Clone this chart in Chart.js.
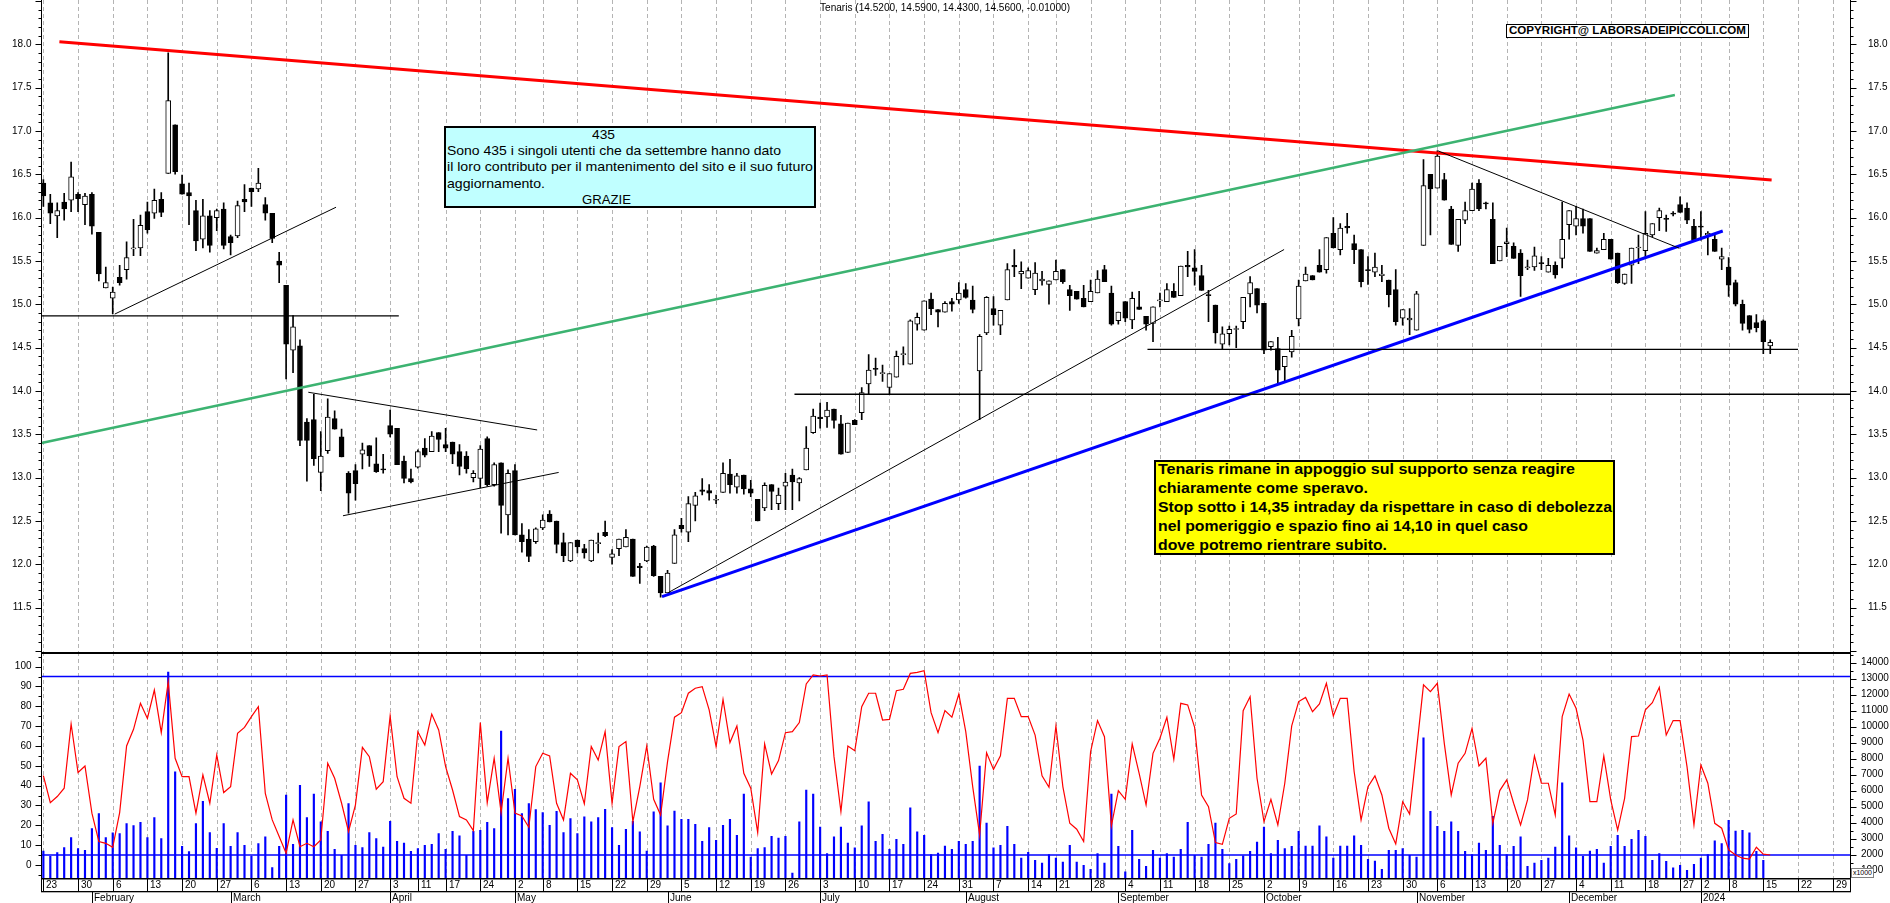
<!DOCTYPE html>
<html lang="it">
<head>
<meta charset="utf-8">
<title>Tenaris</title>
<script src="https://cdn.jsdelivr.net/npm/chart.js"></script>
<style>
html,body{margin:0;padding:0;background:#fff}
body{position:relative;width:1890px;height:903px;overflow:hidden;font-family:"Liberation Sans",Arial,Helvetica,sans-serif;color:#000}
canvas{position:absolute;left:0;display:block}
#priceCanvas{top:0}
#lowerCanvas{top:652px}
.box{position:absolute;box-sizing:border-box;border:2px solid #000}
.txt{position:absolute;white-space:nowrap;line-height:1;transform-origin:0 0;font-family:"Liberation Sans",Arial,Helvetica,sans-serif}
.cy{font-size:13px;font-weight:normal}
.ye{font-size:15px;font-weight:bold}
</style>
</head>
<body>
<canvas id="priceCanvas" width="1890" height="652"></canvas>
<canvas id="lowerCanvas" width="1890" height="251"></canvas>

<div class="box" style="left:444px;top:126px;width:372px;height:82px;background:#c0ffff"></div>
<div class="box" style="left:1154px;top:460px;width:461px;height:95px;background:#ffff00"></div>
<div class="box" style="left:1506px;top:24px;width:243px;height:14px;border-width:1px;background:#fff"></div>
<div class="box" style="left:1851px;top:868px;width:23px;height:10px;border:1px solid #808080;background:#fff"></div>

<div class="txt" data-w="250" style="left:820px;top:3.2px;font-size:10px">Tenaris (14.5200, 14.5900, 14.4300, 14.5600, -0.01000)</div>
<div class="txt" data-w="237" style="left:1509px;top:24.8px;font-size:11px;font-weight:bold">COPYRIGHT@ LABORSADEIPICCOLI.COM</div>
<div class="txt" data-w="19" style="left:1853px;top:869px;font-size:7px">x1000</div>

<div class="txt cy" data-w="23" style="left:592px;top:127.9px">435</div>
<div class="txt cy" data-w="334" style="left:447px;top:143.9px">Sono 435 i singoli utenti che da settembre hanno dato</div>
<div class="txt cy" data-w="366" style="left:447px;top:159.9px">il loro contributo per il mantenimento del sito e il suo futuro</div>
<div class="txt cy" data-w="98" style="left:447px;top:176.5px">aggiornamento.</div>
<div class="txt cy" data-w="49" style="left:582px;top:192.9px">GRAZIE</div>

<div class="txt ye" data-w="417" style="left:1158px;top:461px">Tenaris rimane in appoggio sul supporto senza reagire</div>
<div class="txt ye" data-w="210" style="left:1158px;top:480.4px">chiaramente come speravo.</div>
<div class="txt ye" data-w="454" style="left:1158px;top:499.4px">Stop sotto i 14,35 intraday da rispettare in caso di debolezza</div>
<div class="txt ye" data-w="370" style="left:1158px;top:518.4px">nel pomeriggio e spazio fino ai 14,10 in quel caso</div>
<div class="txt ye" data-w="229" style="left:1158px;top:537.4px">dove potremo rientrare subito.</div>

<script>
// ================= DATA =================
const holidays = ['2023-04-07','2023-04-10','2023-05-01','2023-08-15','2023-12-25','2023-12-26','2024-01-01'];

const opens = [
16.40,16.17,16.02,16.18,16.20,16.27,16.15,16.27,15.83,15.19,
15.07,15.31,15.40,15.64,15.65,16.07,16.05,16.21,16.51,17.07,
16.39,16.29,16.08,15.75,16.02,16.00,16.10,15.78,15.79,16.21,
16.34,16.33,16.15,16.05,15.50,15.22,14.47,14.52,13.64,13.67,
13.06,13.31,13.68,13.47,13.05,13.08,13.27,13.37,13.16,13.10,
13.60,13.57,13.19,12.99,13.12,13.34,13.30,13.52,13.38,13.41,
13.30,13.25,13.00,12.99,13.45,12.92,13.17,12.57,13.08,12.34,
12.29,12.26,12.42,12.58,12.50,12.25,12.04,12.28,12.18,12.04,
12.24,12.37,12.08,12.18,12.20,12.29,11.98,12.04,12.21,11.86,
11.67,12.01,12.45,12.37,12.68,12.86,12.85,12.74,12.83,13.04,
12.89,13.03,12.87,12.75,12.65,12.92,12.70,12.90,13.03,12.94,
13.09,13.52,13.70,13.70,13.79,13.62,13.29,13.66,13.75,14.08,
14.26,14.20,14.04,14.16,14.42,14.31,14.77,14.70,15.06,14.94,
14.91,15.03,15.05,15.17,15.05,14.23,14.67,14.95,14.76,15.05,
15.45,15.35,15.30,15.17,15.27,15.23,15.28,15.40,15.17,15.15,
15.07,15.03,15.13,15.40,15.13,14.81,15.03,14.82,14.97,14.86,
14.78,15.04,15.03,15.15,15.10,15.45,15.42,15.33,15.11,14.99,
14.54,14.66,14.71,14.80,15.12,15.18,15.01,14.51,14.49,14.28,
14.45,14.83,15.27,15.33,15.45,15.40,15.82,15.63,15.90,15.70,
15.63,15.40,15.37,15.33,15.28,15.17,14.84,14.82,14.70,15.68,
16.50,16.34,16.44,16.10,15.68,15.97,16.08,16.40,16.17,15.98,
15.50,15.70,15.67,15.59,15.42,15.43,15.48,15.37,15.45,15.53,
15.92,15.90,15.99,15.99,15.59,15.63,15.75,15.59,15.24,15.45,
15.65,15.62,15.80,16.00,15.99,16.05,16.15,16.11,15.90,15.90,
15.80,15.75,15.52,15.43,15.25,15.00,14.87,14.79,14.81,14.52];

const highs = [
16.44,16.27,16.17,16.28,16.64,16.29,16.28,16.29,15.83,15.43,
15.20,15.45,15.72,15.98,16.03,16.18,16.33,16.29,17.90,17.07,
16.49,16.40,16.20,16.21,16.08,16.10,16.17,15.80,16.19,16.38,
16.34,16.57,16.23,16.05,15.60,15.22,14.87,14.59,13.68,13.96,
13.53,13.91,13.77,13.56,13.07,13.15,13.40,13.37,13.46,13.27,
13.78,13.57,13.25,13.10,13.32,13.45,13.53,13.52,13.57,13.41,
13.38,13.30,13.08,13.37,13.47,13.17,13.17,13.09,13.15,12.47,
12.40,12.42,12.57,12.62,12.50,12.36,12.25,12.28,12.23,12.28,
12.36,12.50,12.17,12.29,12.40,12.29,12.01,12.21,12.22,11.86,
11.93,12.40,12.53,12.78,12.83,12.99,12.92,12.80,13.17,13.21,
13.05,13.03,12.97,12.75,12.94,12.92,12.88,13.05,13.10,13.00,
13.59,13.79,13.86,13.87,13.79,13.72,13.63,13.67,14.04,14.42,
14.38,14.30,14.20,14.46,14.51,14.82,14.90,15.04,15.13,14.94,
15.03,15.07,15.25,15.24,15.21,14.65,15.09,15.09,14.93,15.47,
15.63,15.49,15.42,15.48,15.38,15.27,15.51,15.40,15.22,15.15,
15.22,15.28,15.39,15.45,15.21,14.91,15.03,15.14,15.15,14.86,
14.97,15.13,15.24,15.24,15.44,15.61,15.63,15.45,15.16,14.99,
14.74,14.75,14.75,15.08,15.32,15.18,15.01,14.57,14.62,14.40,
14.70,15.28,15.43,15.33,15.63,15.77,16.00,15.93,16.05,15.80,
15.63,15.55,15.59,15.45,15.28,15.40,14.94,14.95,15.15,16.67,
16.50,16.77,16.51,16.13,15.98,16.18,16.40,16.44,16.18,16.17,
15.67,15.88,15.71,15.63,15.51,15.66,15.55,15.53,15.49,16.18,
16.08,16.13,16.10,15.99,15.65,15.82,15.75,15.59,15.35,15.65,
15.80,16.07,15.93,16.11,16.03,16.07,16.24,16.17,15.98,16.07,
15.84,15.80,15.65,15.54,15.28,15.05,14.87,14.88,14.82,14.59];

const lows = [
16.13,15.93,15.77,15.97,16.07,16.07,15.92,15.81,15.27,15.19,
14.89,15.22,15.29,15.56,15.56,15.82,15.99,16.01,16.51,16.50,
16.27,15.92,15.62,15.65,15.60,15.85,15.64,15.57,15.77,16.07,
16.13,16.30,15.97,15.71,15.25,14.14,14.21,13.37,12.96,13.14,
12.85,13.28,13.56,13.24,12.59,12.74,13.10,13.13,13.06,13.05,
13.47,13.15,12.94,12.94,13.11,13.24,13.30,13.30,13.30,13.16,
13.03,13.05,12.95,12.88,12.90,12.90,12.36,12.34,12.34,12.14,
12.03,12.24,12.40,12.49,12.13,12.03,12.03,12.13,12.07,12.03,
12.13,12.32,12.00,12.10,12.20,11.86,11.78,12.03,11.86,11.62,
11.67,12.01,12.37,12.26,12.50,12.80,12.74,12.70,12.83,12.82,
12.82,12.81,12.78,12.50,12.62,12.63,12.63,12.63,12.63,12.73,
13.09,13.51,13.57,13.58,13.57,13.27,13.29,13.61,13.67,13.96,
14.18,14.11,13.96,14.16,14.30,14.31,14.70,14.70,14.88,14.74,
14.91,14.92,15.01,15.07,14.90,13.67,14.65,14.76,14.65,15.05,
15.32,15.18,15.30,15.11,15.22,15.00,15.28,15.24,14.93,15.06,
14.97,15.03,15.13,15.26,14.76,14.77,14.80,14.72,14.94,14.70,
14.57,14.97,15.03,15.08,15.10,15.32,15.22,15.16,14.80,14.55,
14.48,14.53,14.50,14.72,14.97,14.90,14.43,14.47,14.09,14.11,
14.39,14.75,15.27,15.28,15.37,15.36,15.65,15.57,15.82,15.47,
15.20,15.23,15.32,15.26,14.97,14.76,14.76,14.65,14.70,15.68,
15.80,16.34,16.20,15.69,15.61,15.93,16.08,16.08,16.10,15.47,
15.50,15.55,15.53,15.09,15.40,15.39,15.40,15.37,15.30,15.42,
15.75,15.80,15.82,15.61,15.59,15.63,15.52,15.24,15.23,15.24,
15.47,15.55,15.78,15.85,15.84,16.02,16.06,15.93,15.74,15.74,
15.57,15.61,15.40,15.09,14.98,14.70,14.67,14.68,14.43,14.43];

const closes = [
16.25,16.05,16.08,16.10,16.47,16.22,16.25,15.90,15.35,15.25,
15.14,15.25,15.54,15.65,15.91,15.86,16.20,16.06,17.35,16.53,
16.27,16.25,15.73,16.02,15.68,16.08,15.68,15.71,16.14,16.18,
16.30,16.40,16.05,15.76,15.45,14.54,14.74,13.43,13.43,13.22,
13.25,13.70,13.56,13.24,12.82,12.93,13.32,13.25,13.07,13.09,
13.50,13.15,12.99,12.95,13.30,13.26,13.48,13.44,13.34,13.27,
13.13,13.10,13.05,13.33,12.92,13.15,12.68,13.05,12.34,12.26,
12.09,12.41,12.51,12.49,12.23,12.10,12.25,12.20,12.13,12.28,
12.25,12.33,12.12,12.29,12.31,11.86,11.96,12.20,11.87,11.67,
11.90,12.34,12.41,12.70,12.79,12.84,12.82,12.75,13.05,12.92,
13.02,12.87,12.82,12.50,12.91,12.84,12.80,12.95,12.95,12.99,
13.34,13.71,13.68,13.78,13.66,13.27,13.63,13.61,13.98,14.24,
14.25,14.21,14.20,14.40,14.43,14.81,14.85,15.04,14.95,14.91,
15.01,15.00,15.13,15.08,14.94,14.63,15.08,14.88,14.93,15.40,
15.43,15.38,15.39,15.36,15.29,15.27,15.38,15.26,15.10,15.06,
14.97,15.15,15.29,15.26,14.77,14.91,14.84,15.07,14.94,14.77,
14.97,15.05,15.17,15.08,15.44,15.43,15.38,15.16,15.10,14.67,
14.66,14.71,14.72,15.08,15.25,14.99,14.47,14.57,14.24,14.40,
14.63,15.21,15.35,15.28,15.37,15.77,15.65,15.88,15.88,15.63,
15.26,15.39,15.43,15.35,15.11,14.80,14.94,14.84,15.12,16.37,
16.33,16.71,16.20,15.69,15.98,16.08,16.33,16.10,16.16,15.47,
15.67,15.72,15.53,15.33,15.43,15.56,15.47,15.45,15.34,15.75,
16.08,15.99,15.90,15.61,15.62,15.75,15.52,15.25,15.35,15.65,
15.66,15.82,15.93,16.08,15.98,16.04,16.06,15.97,15.74,15.89,
15.82,15.61,15.55,15.22,15.00,14.78,14.71,14.73,14.57,14.56];

// volume, thousands of shares
const volumes = [
2230,1900,2130,2440,3060,2380,2270,3630,4570,3060,
3360,3320,3940,3820,4020,3060,4320,3000,13420,7180,
2520,2190,3940,5340,3380,2400,3940,2520,3380,2580,
1900,2690,3110,1190,2520,5720,2650,6340,4320,5780,
4050,3460,2330,1960,5190,2580,2440,3380,3000,2480,
4090,2840,2730,2210,2380,2580,2650,3320,2330,3460,
3170,1960,3460,3520,4020,3630,9720,5510,6090,4570,
5190,4820,4630,3840,4710,3380,4250,3320,4360,4050,
4320,4840,3690,2580,3590,4090,3420,2230,4670,6490,
3800,4730,4210,4210,3900,2840,3690,2900,3840,4210,
3210,5780,1850,2380,2440,3150,3040,3150,850,4050,
6030,5780,3730,2060,3110,3730,2730,2420,3800,5300,
2840,3270,2330,2960,2650,4920,3420,3210,2000,2100,
2540,2330,2840,2650,2840,7530,3980,2420,2580,3770,
2650,1790,2150,1650,1480,2000,1790,1540,2580,1540,
1330,1080,2060,1480,5780,2520,920,3520,1710,1270,
2270,1790,2060,1850,2330,4020,1960,1850,2650,3980,
2330,1440,1710,1920,2210,2790,3730,2060,2900,2380,
2520,3460,2540,2540,3800,3110,1790,2540,2540,3170,
2580,1710,1600,1080,2270,2270,2380,1960,1850,9310,
4710,3770,3460,4050,3460,2210,2000,2730,2270,4400,
2580,2000,2520,3110,1270,1480,1650,1790,2480,6490,
3170,2420,1900,2230,2330,1480,2520,3210,2520,2960,
3520,3150,1650,2060,1580,1170,1330,1020,1400,1790,
2000,2860,2690,4150,3480,3520,3360,2200,1650,450];

// oscillator (0-100)
const oscillator = [
45.0,31.4,34.5,38.7,71.1,46.6,49.9,26.1,11.8,10.9,
8.9,26.4,60.0,68.4,81.5,73.9,88.2,66.7,92.4,53.8,
44.5,44.5,26.1,45.4,31.1,55.5,36.5,39.5,66.4,69.4,
74.8,79.8,36.1,22.7,14.3,5.9,22.7,9.2,10.9,9.2,
12.6,51.3,43.7,31.1,16.8,30.3,59.3,54.6,38.2,42.0,
75.1,44.5,33.6,31.1,67.2,60.5,76.1,68.1,49.6,37.8,
24.4,22.7,17.3,71.8,31.4,53.8,26.4,53.8,26.1,24.7,
19.0,49.6,56.3,55.0,31.1,22.7,46.2,42.9,30.8,59.7,
52.9,67.2,31.1,59.7,62.2,21.8,39.5,60.0,33.1,25.2,
52.1,74.5,76.8,86.6,89.1,89.9,78.2,59.7,83.5,61.7,
70.1,46.2,38.7,16.3,61.0,45.9,52.6,66.7,67.2,71.8,
91.3,95.8,95.3,95.8,54.6,26.9,60.0,57.6,79.8,86.6,
86.6,73.1,73.4,87.9,88.6,96.6,97.1,98.0,76.8,66.7,
77.8,74.5,86.2,67.2,39.5,15.1,56.6,48.2,55.0,84.0,
84.0,74.8,74.8,65.5,44.9,39.2,70.1,39.5,21.0,18.0,
11.8,57.1,72.8,64.7,19.7,37.5,33.1,61.0,46.2,30.3,
56.3,63.9,74.5,53.3,81.5,80.7,69.4,35.3,29.4,11.3,
10.4,23.5,25.7,77.8,84.9,43.7,21.8,33.1,20.2,41.2,
70.1,82.4,84.5,77.3,81.2,91.6,75.1,84.0,84.0,47.1,
22.7,39.5,44.9,35.3,18.5,10.6,31.9,25.7,58.0,90.8,
87.4,91.6,61.3,35.3,51.3,56.3,68.9,49.9,53.8,21.0,
37.5,42.9,31.1,20.2,32.8,55.0,41.2,41.2,25.2,74.8,
86.2,79.0,63.0,31.9,31.9,55.0,32.8,17.6,33.6,64.7,
65.0,78.2,81.8,89.6,65.5,72.8,72.8,49.6,20.2,50.4,
41.2,21.0,18.5,7.6,5.0,3.4,2.9,8.9,5.4,5.0];

const oscLevels = [95, 5];

// axis tick labels
const priceTicks = [11.5,12.0,12.5,13.0,13.5,14.0,14.5,15.0,15.5,16.0,16.5,17.0,17.5,18.0];
const oscTicks = [0,10,20,30,40,50,60,70,80,90,100];
const volTicks = [1000,2000,3000,4000,5000,6000,7000,8000,9000,10000,11000,12000,13000,14000];

// weekly tick dates and their labels
const tickDates = ['2023-01-23','2023-01-30','2023-02-06','2023-02-13','2023-02-20','2023-02-27','2023-03-06','2023-03-13','2023-03-20','2023-03-27',
'2023-04-03','2023-04-11','2023-04-17','2023-04-24','2023-05-02','2023-05-08','2023-05-15','2023-05-22','2023-05-29','2023-06-05',
'2023-06-12','2023-06-19','2023-06-26','2023-07-03','2023-07-10','2023-07-17','2023-07-24','2023-07-31','2023-08-07','2023-08-14',
'2023-08-21','2023-08-28','2023-09-04','2023-09-11','2023-09-18','2023-09-25','2023-10-02','2023-10-09','2023-10-16','2023-10-23',
'2023-10-30','2023-11-06','2023-11-13','2023-11-20','2023-11-27','2023-12-04','2023-12-11','2023-12-18','2023-12-27','2024-01-02',
'2024-01-08','2024-01-15','2024-01-22','2024-01-29'];
const tickLabels = ['23','30','6','13','20','27','6','13','20','27',
'3','11','17','24','2','8','15','22','29','5',
'12','19','26','3','10','17','24','31','7','14',
'21','28','4','11','18','25','2','9','16','23',
'30','6','13','20','27','4','11','18','27','2',
'8','15','22','29'];
const monthKeys = ['2023-02','2023-03','2023-04','2023-05','2023-06','2023-07','2023-08','2023-09','2023-10','2023-11','2023-12','2024-01'];
const monthLabels = ['February','March','April','May','June','July','August','September','October','November','December','2024'];

// drawn trend lines: [trading-day index, price]
const resistanceLine = [[2.31,18.03],[249.2,16.434]];
const channelLine    = [[-0.27,13.40],[235.25,17.415]];
const supportLine    = [[89.2,11.626],[242.15,15.846]];
const rallyLine      = [[90.1,11.673],[178.9,15.632]];
const febSupport     = [[-0.27,14.867],[51.25,14.867]];
const febRise        = [[10.29,14.887],[42.2,16.12]];
const triUpper       = [[38.2,13.985],[71.2,13.55]];
const triLower       = [[43.2,12.56],[74.3,13.06]];
const level1396      = [[108.3,13.962],[260.5,13.962]];
const level1448      = [[159.2,14.48],[253.0,14.48]];
const novDown        = [[201.1,16.77],[235.9,15.646]];

// ================= HELPERS =================
function buildTradingDays(){
  const out=[]; const d=new Date(Date.UTC(2023,0,23)); const end=Date.UTC(2024,0,31);
  while(d.getTime()<=end){
    const wd=d.getUTCDay(); const s=d.toISOString().slice(0,10);
    if(wd!==0 && wd!==6 && holidays.indexOf(s)<0) out.push(s);
    d.setUTCDate(d.getUTCDate()+1);
  }
  return out;
}
const tradingDays = buildTradingDays();
const dayIndex = s => tradingDays.indexOf(s);
const monthIndex = k => tradingDays.findIndex(s => s.slice(0,7)===k);

const XMIN=-0.27, XMAX=260.5;
const PMIN=10.988, PMAX=18.511;
const FONT='"Liberation Sans", Arial, Helvetica, sans-serif';

Chart.defaults.font.family = FONT;
Chart.defaults.font.size = 10;
Chart.defaults.color = '#000';

function lineDS(pts, color, width, axis){
  return {type:'line', data: pts.map(p=>({x:p[0],y:p[1]})), borderColor:color, backgroundColor:color,
    borderWidth:width, pointRadius:0, fill:false, tension:0, order:0, yAxisID: axis||'y', xAxisID:'x'};
}

function drawVGrid(chart){
  const {ctx, chartArea:a, scales} = chart; const x = scales.x;
  ctx.save();
  ctx.beginPath(); ctx.rect(a.left, a.top, a.right-a.left, a.bottom-a.top); ctx.clip();
  ctx.strokeStyle='#b4b4b4'; ctx.lineWidth=1; ctx.setLineDash([4,3]);
  tickDates.forEach(d=>{
    const i=dayIndex(d); if(i<0) return;
    const px=Math.round(x.getPixelForValue(i))+0.5;
    ctx.beginPath(); ctx.moveTo(px,a.top); ctx.lineTo(px,a.bottom); ctx.stroke();
  });
  ctx.restore();
}

function drawYTicks(ctx, scale, side, step, majorEvery, x0){
  const n0=Math.ceil(scale.min/step-1e-9), n1=Math.floor(scale.max/step+1e-9);
  ctx.beginPath();
  for(let n=n0;n<=n1;n++){
    const y=Math.round(scale.getPixelForValue(n*step))+0.5;
    const len=((((n%majorEvery)+majorEvery)%majorEvery)===0)?6:3;
    ctx.moveTo(x0,y); ctx.lineTo(side==='left'?x0-len:x0+len,y);
  }
  ctx.stroke();
}

function axisOpts(position, min, max, values, padding, width, labelFn){
  return {type:'linear', position, min, max,
    grid:{display:false, drawTicks:false}, border:{display:false},
    ticks:{autoSkip:false, padding, callback:labelFn, font:{size:10, family:FONT}, color:'#000'},
    afterBuildTicks:s=>{ s.ticks = values.map(v=>({value:v})); },
    afterFit:s=>{ s.width=width; s.paddingTop=0; s.paddingBottom=0; }};
}

// ================= PRICE CHART =================
const bodyData = opens.map((o,i)=>{
  const c=closes[i]; let lo=Math.min(o,c), hi=Math.max(o,c);
  if(hi-lo<0.012){ const m=(hi+lo)/2; lo=m-0.006; hi=m+0.006; }
  return {x:i, y:[lo,hi]};
});
const bodyColors = opens.map((o,i)=> closes[i]>=o ? '#ffffff' : '#000000');
const wickData = highs.map((h,i)=>({x:i, y:[lows[i],h]}));
const priceLabel = v => Number(v).toFixed(1);

const pricePlugin = {
  id:'priceDecor',
  beforeDatasetsDraw(chart){ drawVGrid(chart); },
  afterDraw(chart){
    const {ctx, chartArea:a} = chart;
    ctx.save(); ctx.strokeStyle='#000'; ctx.lineWidth=1;
    const xl=Math.floor(a.left)+0.5, xr=Math.floor(a.right)+0.5;
    ctx.beginPath(); ctx.moveTo(xl,a.top); ctx.lineTo(xl,a.bottom); ctx.moveTo(xr,a.top); ctx.lineTo(xr,a.bottom); ctx.stroke();
    drawYTicks(ctx, chart.scales.y, 'left', 0.1, 5, xl);
    drawYTicks(ctx, chart.scales.y2, 'right', 0.1, 5, xr);
    ctx.restore();
  }
};

new Chart(document.getElementById('priceCanvas'), {
  type:'bar',
  data:{datasets:[
    {type:'bar', data:wickData, backgroundColor:'#000', borderWidth:0, barThickness:1, grouped:false, order:3, clip:0, yAxisID:'y', xAxisID:'x'},
    {type:'bar', data:bodyData, backgroundColor:bodyColors, borderColor:'#000', borderWidth:1, borderSkipped:false, barThickness:5, grouped:false, order:2, clip:0, yAxisID:'y', xAxisID:'x'},
    lineDS(febSupport,'#000',1.2),
    lineDS(febRise,'#000',1),
    lineDS(triUpper,'#000',1),
    lineDS(triLower,'#000',1),
    lineDS(level1396,'#000',1.3),
    lineDS(level1448,'#000',1.3),
    lineDS(rallyLine,'#000',1),
    lineDS(novDown,'#000',1),
    lineDS(channelLine,'#3cb371',2.5),
    lineDS(resistanceLine,'#ff0000',3),
    lineDS(supportLine,'#0000ff',3)
  ]},
  options:{
    responsive:false, animation:false, events:[], layout:{padding:0},
    plugins:{legend:{display:false}, tooltip:{enabled:false}, title:{display:false}},
    scales:{
      x:{type:'linear', min:XMIN, max:XMAX, offset:false, display:false},
      y: axisOpts('left', PMIN, PMAX, priceTicks, 10, 41.5, priceLabel),
      y2: axisOpts('right', PMIN, PMAX, priceTicks, 18, 40, priceLabel)
    }
  },
  plugins:[pricePlugin]
});

// ================= LOWER CHART =================
const lowerPlugin = {
  id:'lowerDecor',
  beforeDatasetsDraw(chart){ drawVGrid(chart); },
  afterDraw(chart){
    const {ctx, chartArea:a, scales} = chart; const x=scales.x;
    ctx.save();
    ctx.fillStyle='#000'; ctx.strokeStyle='#000';
    const xl=Math.floor(a.left)+0.5, xr=Math.floor(a.right)+0.5;
    ctx.fillRect(xl-0.5, 0, xr-xl+1, 2);
    ctx.lineWidth=1;
    ctx.beginPath(); ctx.moveTo(xl,a.top); ctx.lineTo(xl,a.bottom); ctx.moveTo(xr,a.top); ctx.lineTo(xr,a.bottom); ctx.stroke();
    drawYTicks(ctx, scales.yO, 'left', 5, 2, xl);
    drawYTicks(ctx, scales.yV, 'right', 500, 2, xr);
    const yA=Math.round(a.bottom);
    const yB=yA+13;
    const yEnd=chart.height;
    ctx.fillRect(xl-0.5, yA, xr-xl+1, 1.5);
    ctx.fillRect(xl-0.5, yB, xr-xl+1, 1.3);
    ctx.fillRect(xl-0.5, yA, 1, yB-yA);
    ctx.fillRect(xr-0.5, yA, 1, yB-yA);
    ctx.font='10px '+FONT; ctx.textBaseline='middle'; ctx.textAlign='left';
    tickDates.forEach((d,k)=>{
      const i=dayIndex(d); if(i<0) return;
      const px=Math.round(x.getPixelForValue(i));
      ctx.fillRect(px, yA, 1, yB-yA);
      ctx.fillText(tickLabels[k], px+3, yA+7);
    });
    monthKeys.forEach((m,k)=>{
      const i=monthIndex(m); if(i<0) return;
      const px=Math.round(x.getPixelForValue(i));
      ctx.fillRect(px, yB, 1, yEnd-yB);
      ctx.fillText(monthLabels[k], px+2, yB+7.5);
    });
    ctx.restore();
  }
};

new Chart(document.getElementById('lowerCanvas'), {
  type:'bar',
  data:{datasets:[
    {type:'bar', data:volumes.map((v,i)=>({x:i,y:v})), backgroundColor:'#0000ff', borderWidth:0, barThickness:1.5, grouped:false, order:3, clip:0, yAxisID:'yV', xAxisID:'x'},
    Object.assign(lineDS([[XMIN,oscLevels[0]],[XMAX,oscLevels[0]]],'#0000ff',1.5,'yO'),{order:2}),
    Object.assign(lineDS([[XMIN,oscLevels[1]],[XMAX,oscLevels[1]]],'#0000ff',1.5,'yO'),{order:2}),
    Object.assign(lineDS(oscillator.map((v,i)=>[i,v]),'#ff0000',1.2,'yO'),{order:1})
  ]},
  options:{
    responsive:false, animation:false, events:[], layout:{padding:{top:0,left:0,right:0,bottom:25}},
    plugins:{legend:{display:false}, tooltip:{enabled:false}, title:{display:false}},
    scales:{
      x:{type:'linear', min:XMIN, max:XMAX, offset:false, display:false},
      yO: axisOpts('left', -6.6, 107.4, oscTicks, 10, 41.5, v=>String(Math.round(v))),
      yV: axisOpts('right', 540, 14670, volTicks, 11, 40, v=>String(Math.round(v)))
    }
  },
  plugins:[lowerPlugin]
});

// ================= TEXT FITTING =================
function fitTexts(){
  document.querySelectorAll('.txt[data-w]').forEach(el=>{
    el.style.transform='none';
    const w=el.getBoundingClientRect().width; const t=+el.dataset.w;
    if(w>0) el.style.transform='scaleX('+(t/w)+')';
  });
}
fitTexts();
if(document.fonts && document.fonts.ready) document.fonts.ready.then(fitTexts);
</script>
</body>
</html>
